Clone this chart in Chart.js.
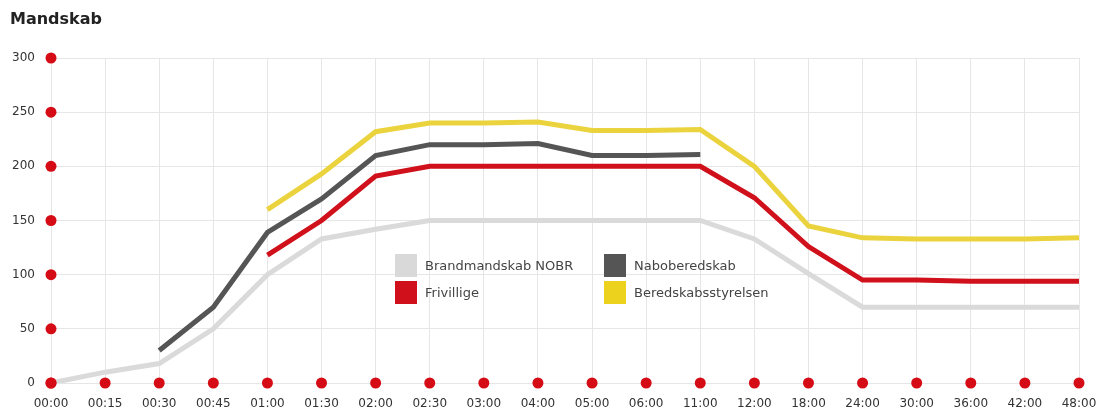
<!DOCTYPE html>
<html>
<head>
<meta charset="utf-8">
<script src="https://cdn.jsdelivr.net/npm/chart.js@4/dist/chart.umd.min.js"></script>
<style>
  body { margin: 0; background: #fff; font-family: "DejaVu Sans", sans-serif; }
  #wrap { position: relative; width: 1098px; height: 412px; }
  #title { position: absolute; left: 10px; top: 9px; font-size: 16px; font-weight: bold; color: #222; }
  #chart { position: absolute; left: 0; top: 0; }
  .legend { position: absolute; left: 395px; top: 254px; display: grid; grid-template-columns: 209px 200px; row-gap: 4px; }
  .legend div { display: flex; align-items: center; font-size: 13px; color: #444; height: 23px; }
  .legend span { display: inline-block; width: 22px; height: 23px; margin-right: 8px; }
</style>
</head>
<body>
<div id="wrap">
  <canvas id="chart" width="1098" height="412"></canvas>
  <div id="title">Mandskab</div>
  <div class="legend" id="legend"></div>
</div>
<script>
    const labels = ['00:00','00:15','00:30','00:45','01:00','01:30','02:00','02:30','03:00','04:00',
        '05:00','06:00','11:00','12:00','18:00','24:00','30:00','36:00','42:00','48:00'];
    const yTicks = [0, 50, 100, 150, 200, 250, 300];

    const nobr = [0, 10, 18, 50, 100, 133, 142, 150, 150, 150, 150, 150, 150, 133, 101, 70, 70, 70, 70, 70];
    const nabo = [null, null, 30, 70, 139, 170, 210, 220, 220, 221, 210, 210, 211,
        null, null, null, null, null, null, null];
    const frivillige = [null, null, null, null, 118, 150, 191, 200, 200, 200, 200, 200, 200, 171, 126, 95, 95, 94, 94, 94];
    const beredskab = [null, null, null, null, 160, 193, 232, 240, 240, 241, 233, 233, 234, 200, 145, 134, 133, 133, 133, 134];

    const names = ['Brandmandskab NOBR', 'Naboberedskab', 'Frivillige', 'Beredskabsstyrelsen'];
    const lineColors = ['#dadada', '#555555', '#d0101a', '#ebd33e'];
    const swatchColors = ['#d9d9d9', '#555555', '#d0101a', '#ecd21c'];

    const legendEl = document.getElementById('legend');
    [0, 1, 2, 3].forEach(i => {
        const item = document.createElement('div');
        item.innerHTML = `<span style="background:${swatchColors[i]}"></span>${names[i]}`;
        legendEl.appendChild(item);
    });

    function ds(i, data) {
        return {
            label: names[i],
            data: data,
            borderColor: lineColors[i],
            borderWidth: 5,
            tension: 0,
            pointRadius: 0,
            fill: false,
            spanGaps: false
        };
    }

    // red dots on both axes
    const axisDots = {
        id: 'axisDots',
        afterDatasetsDraw(chart) {
            const ctx = chart.ctx;
            const x = chart.scales.x, y = chart.scales.y;
            ctx.save();
            ctx.fillStyle = '#d50c15';
            const r = 5.5;
            labels.forEach((l, i) => {
                ctx.beginPath();
                ctx.arc(x.getPixelForValue(i), y.getPixelForValue(0), r, 0, Math.PI * 2);
                ctx.fill();
            });
            yTicks.forEach(v => {
                ctx.beginPath();
                ctx.arc(x.getPixelForValue(0), y.getPixelForValue(v), r, 0, Math.PI * 2);
                ctx.fill();
            });
            ctx.restore();
        }
    };

    new Chart(document.getElementById('chart'), {
        type: 'line',
        data: {
            labels: labels,
            datasets: [ds(0, nobr), ds(2, frivillige), ds(1, nabo), ds(3, beredskab)]
        },
        options: {
            responsive: false,
            animation: false,
            layout: { padding: { top: 58, right: 0, left: 0, bottom: 0 } },
            plugins: { legend: { display: false }, tooltip: { enabled: false } },
            scales: {
                x: {
                    offset: false,
                    grid: { color: '#e6e6e6', drawTicks: false },
                    border: { color: '#e6e6e6' },
                    ticks: { color: '#333', font: { family: 'DejaVu Sans', size: 12 }, padding: 14, maxRotation: 0, autoSkip: false },
                    afterFit(s) { s.height = 29; s.paddingRight = 19; }
                },
                y: {
                    min: 0,
                    max: 300,
                    grid: { color: '#e6e6e6', drawTicks: false },
                    border: { display: false },
                    ticks: { stepSize: 50, color: '#333', font: { family: 'DejaVu Sans', size: 12 }, padding: 16 },
                    afterFit(s) { s.width = 51; }
                }
            }
        },
        plugins: [axisDots]
    });
</script>
</body>
</html>
